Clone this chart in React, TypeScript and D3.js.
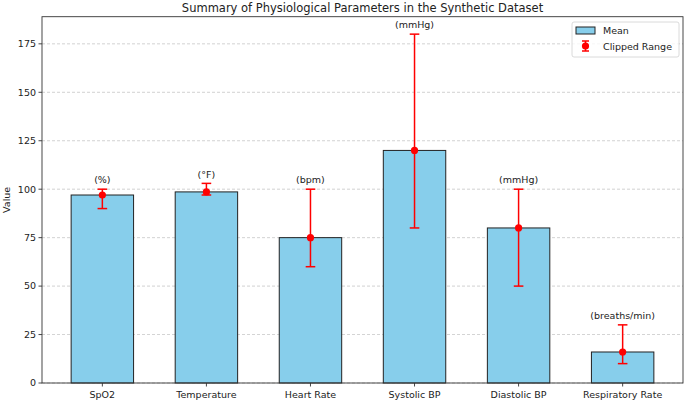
import React from 'react';
import * as d3 from 'd3';

// values
const parameters = ['SpO2', 'Temperature', 'Heart Rate', 'Systolic BP', 'Diastolic BP', 'Respiratory Rate'];
const means = [97, 98.6, 75, 120, 80, 16];
const rangeLow = [90, 97, 60, 80, 50, 10];
const rangeHigh = [100, 103, 100, 180, 100, 30];
const units = ['(%)', '(°F)', '(bpm)', '(mmHg)', '(mmHg)', '(breaths/min)'];
const yTicks = [0, 25, 50, 75, 100, 125, 150, 175];

const W = 685;
const H = 402;
const margin = { top: 16.7, right: 2, bottom: 19, left: 42 };
const font = 'DejaVu Sans, sans-serif';

export default function App() {
  const x = d3.scaleLinear()
    .domain([-0.58, parameters.length - 1 + 0.58])
    .range([margin.left, W - margin.right]);
  const y = d3.scaleLinear()
    .domain([0, 189])
    .range([H - margin.bottom, margin.top]);

  const barW = x(0.6) - x(0);
  const cap = 4.8;
  const x0 = margin.left;
  const x1 = W - margin.right;
  const y0 = H - margin.bottom;
  const y1 = margin.top;

  return (
    <svg width={W} height={H} style={{ position: 'absolute', left: 0, top: 0, fontFamily: font }}>
      <rect width={W} height={H} fill="#fff" />
      {/* grid */}
      {yTicks.map((t) => (
        <line key={'g' + t} x1={x0} x2={x1} y1={y(t)} y2={y(t)}
          stroke="#b0b0b0" strokeWidth={0.8} strokeDasharray="3,2" opacity={0.7} />
      ))}
      {/* bars */}
      {parameters.map((p, i) => (
        <rect key={p} x={x(i) - barW / 2} y={y(means[i])} width={barW} height={y(0) - y(means[i])}
          fill="#87ceeb" stroke="#222" strokeWidth={1} />
      ))}
      {/* error bars */}
      {parameters.map((p, i) => (
        <g key={'e' + p} stroke="#ff0000" strokeWidth={1.5}>
          <line x1={x(i)} x2={x(i)} y1={y(rangeLow[i])} y2={y(rangeHigh[i])} />
          <line x1={x(i) - cap} x2={x(i) + cap} y1={y(rangeLow[i])} y2={y(rangeLow[i])} />
          <line x1={x(i) - cap} x2={x(i) + cap} y1={y(rangeHigh[i])} y2={y(rangeHigh[i])} />
          <circle cx={x(i)} cy={y(means[i])} r={3.6} fill="#ff0000" stroke="none" />
        </g>
      ))}
      {/* unit labels */}
      {parameters.map((p, i) => (
        <text key={'u' + p} x={x(i)} y={y(rangeHigh[i] + 3)} textAnchor="middle" fontSize={9.5} fill="#222">
          {units[i]}
        </text>
      ))}
      {/* axes frame */}
      <rect x={x0} y={y1} width={x1 - x0} height={y0 - y1} fill="none" stroke="#333" strokeWidth={0.9} />
      {/* y ticks */}
      {yTicks.map((t) => (
        <g key={'y' + t}>
          <line x1={x0 - 3.5} x2={x0} y1={y(t)} y2={y(t)} stroke="#333" strokeWidth={0.9} />
          <text x={x0 - 6} y={y(t)} dy="0.35em" textAnchor="end" fontSize={9.5} fill="#222">{t}</text>
        </g>
      ))}
      {/* x ticks */}
      {parameters.map((p, i) => (
        <g key={'x' + p}>
          <line x1={x(i)} x2={x(i)} y1={y0} y2={y0 + 3.5} stroke="#333" strokeWidth={0.9} />
          <text x={x(i)} y={y0 + 14.5} textAnchor="middle" fontSize={9.5} fill="#222">{p}</text>
        </g>
      ))}
      {/* axis label + title */}
      <text transform={`translate(10,${(y0 + y1) / 2}) rotate(-90)`} textAnchor="middle" fontSize={9.5} fill="#222">Value</text>
      <text x={(x0 + x1) / 2} y={11.5} textAnchor="middle" fontSize={11.5} fill="#222">
        Summary of Physiological Parameters in the Synthetic Dataset
      </text>
      {/* legend */}
      <g transform="translate(572,22)">
        <rect width={107} height={35} rx={2} fill="#fff" fillOpacity={0.8} stroke="#d0d0d0" strokeWidth={0.8} />
        <rect x={4} y={5} width={19} height={7} fill="#87ceeb" stroke="#222" strokeWidth={1} />
        <text x={31} y={12} fontSize={9.5} fill="#222">Mean</text>
        <g stroke="#ff0000" strokeWidth={1.5}>
          <line x1={13.5} x2={13.5} y1={19} y2={29} />
          <line x1={10} x2={17} y1={19} y2={19} />
          <line x1={10} x2={17} y1={29} y2={29} />
          <circle cx={13.5} cy={24} r={3.6} fill="#ff0000" stroke="none" />
        </g>
        <text x={31} y={28} fontSize={9.5} fill="#222">Clipped Range</text>
      </g>
    </svg>
  );
}
